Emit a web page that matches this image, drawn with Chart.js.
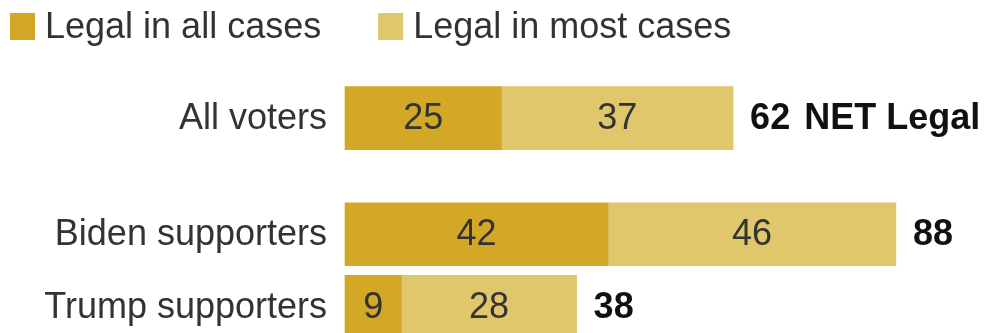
<!DOCTYPE html>
<html>
<head>
<meta charset="utf-8">
<script src="https://cdn.jsdelivr.net/npm/chart.js@4"></script>
<style>
  html, body { margin: 0; padding: 0; background: #fff; overflow: hidden; }
  #wrap { position: relative; width: 992px; height: 333px; }
</style>
</head>
<body>
<div id="wrap"><canvas id="bar_chart"></canvas></div>
<script>
// data
const categories = ['All voters', 'Biden supporters', 'Trump supporters'];
const legalAll = [25, 42, 9];
const legalMost = [37, 46, 28];
const netLegal = [62, 88, 38];
const netNote = ['NET Legal', '', ''];
const seriesLabels = ['Legal in all cases', 'Legal in most cases'];

// layout: row slots on the y scale (gap after "All voters")
const rowY = [0, 5, 8.12];
const colors = ['#D4A827', '#E1C76B'];
const FONT = "'Liberation Sans', Arial, sans-serif";

const toPoints = vals => vals.map((v, i) => ({ x: v, y: rowY[i] }));

const labelPlugin = {
    id: 'labelPlugin',
    afterDatasetsDraw(chart) {
        const ctx = chart.ctx;
        const yScale = chart.scales.y;
        const area = chart.chartArea;
        ctx.save();
        ctx.textBaseline = 'middle';

        // legend (drawn by hand to get the spacing right)
        ctx.font = '36px ' + FONT;
        let lx = 10;
        seriesLabels.forEach((lab, i) => {
            ctx.fillStyle = colors[i];
            ctx.fillRect(lx, 13, 25, 27);
            ctx.fillStyle = '#333';
            ctx.textAlign = 'left';
            ctx.fillText(lab, lx + 35, 28);
            lx += 35 + ctx.measureText(lab).width + 57;
        });

        // category labels
        ctx.font = '36px ' + FONT;
        ctx.fillStyle = '#333';
        ctx.textAlign = 'right';
        categories.forEach((c, i) => {
            ctx.fillText(c, area.left - 18, yScale.getPixelForValue(rowY[i]) + 1);
        });

        // values inside segments
        ctx.textAlign = 'center';
        chart.data.datasets.forEach((ds, di) => {
            const meta = chart.getDatasetMeta(di);
            meta.data.forEach((bar, i) => {
                ctx.fillStyle = '#333';
                ctx.fillText(String(ds.data[i].x), (bar.x + bar.base) / 2, bar.y + 1);
            });
        });

        // net values
        const top = chart.getDatasetMeta(1);
        ctx.font = 'bold 36px ' + FONT;
        ctx.fillStyle = '#111';
        ctx.textAlign = 'left';
        top.data.forEach((bar, i) => {
            const x = bar.x + 17;
            const txt = String(netLegal[i]);
            ctx.fillText(txt, x, bar.y + 1);
            if (netNote[i]) {
                ctx.fillText(netNote[i], x + ctx.measureText(txt).width + 14, bar.y + 1);
            }
        });
        ctx.restore();
    }
};

const ctx1 = document.getElementById('bar_chart').getContext('2d');
const bar_chart = new Chart(ctx1, {
    type: 'bar',
    data: {
        datasets: [{
            label: seriesLabels[0],
            data: toPoints(legalAll),
            backgroundColor: colors[0],
            borderWidth: 0,
            barThickness: 63,
            clip: false
        }, {
            label: seriesLabels[1],
            data: toPoints(legalMost),
            backgroundColor: colors[1],
            borderWidth: 0,
            barThickness: 63,
            clip: false
        }]
    },
    options: {
        indexAxis: 'y',
        responsive: true,
        maintainAspectRatio: false,
        animation: false,
        layout: { padding: { top: 60, right: 21, bottom: 0, left: 0 } },
        scales: {
            x: { type: 'linear', stacked: true, min: 0, max: 100, display: false },
            y: {
                type: 'linear',
                stacked: true,
                reverse: true,
                offset: false,
                min: -2.5,
                max: 9.25,
                grid: { display: false, offset: false },
                border: { display: false },
                ticks: { display: false },
                afterFit: scale => { scale.width = 345; }
            }
        },
        plugins: {
            legend: { display: false },
            tooltip: { enabled: true }
        }
    },
    plugins: [labelPlugin]
});
</script>
</body>
</html>
